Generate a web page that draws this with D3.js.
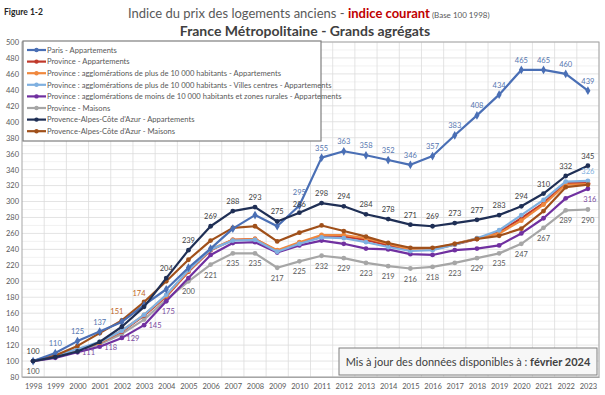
<!DOCTYPE html>
<html>
<head>
<meta charset="utf-8">
<script src="https://cdn.jsdelivr.net/npm/d3@7"></script>
<style>
  body { margin: 0; background: #fff; }
  text { font-family: Lato, "Liberation Sans", sans-serif; }
</style>
</head>
<body>
<div id="viz"></div>
<script>
// data
const years = d3.range(1998, 2024).map(String);
const yTicks = d3.range(80, 501, 20);

const seriesNames = [
  "Paris - Appartements",
  "Province - Appartements",
  "Province : agglomérations de plus de 10 000 habitants - Appartements",
  "Province : agglomérations de plus de 10 000 habitants - Villes centres - Appartements",
  "Province : agglomérations de moins de 10 000 habitants et zones rurales - Appartements",
  "Province - Maisons",
  "Provence-Alpes-Côte d'Azur - Appartements",
  "Provence-Alpes-Côte d'Azur - Maisons"
];

const paris     = [100,110,125,137,149,170,190,217,241,266,283,269,295,355,363,358,352,346,357,383,408,434,465,465,460,439];
const provApt   = [100,106,114,123,137,157,181,212,239,252,253,238,248,257,256,252,245,239,240,246,253,262,279,298,323,323];
const aggloApt  = [100,106,114,123,138,158,182,213,240,252,253,239,249,258,258,254,247,240,241,247,254,260,276,296,321,322];
const centres   = [100,107,115,124,138,158,183,214,240,251,252,237,247,255,254,249,243,238,239,246,254,264,283,302,325,326];
const ruralApt  = [100,104,111,118,129,145,175,204,233,248,249,236,245,251,247,241,240,234,233,239,241,245,260,279,304,316];
const provMai   = [100,106,113,121,134,152,177,200,221,235,235,217,225,232,229,223,219,216,218,223,229,235,247,267,289,290];
const pacaApt   = [100,105,112,124,143,168,204,239,269,288,293,275,286,298,294,284,278,271,269,273,277,283,294,310,332,345];
const pacaMai   = [100,107,119,135,151,174,200,227,251,267,269,250,261,270,263,256,248,242,242,247,253,257,266,288,318,321];

// which years carry a data label, per series
const parisLabels   = ["1999","2000","2001","2010","2011","2012","2013","2014","2015","2016","2017","2018","2019","2020","2021","2022","2023"];
const pacaAptLabels = ["1998","2004","2005","2006","2007","2008","2009","2010","2011","2012","2013","2014","2015","2016","2017","2018","2019","2020","2021","2022","2023"];
const pacaMaiLabels = ["2002","2003"];
const ruralLabels   = ["2000","2001","2002","2003","2004","2023"];
const provMaiLabels = ["1998","2005","2006","2007","2008","2009","2010","2011","2012","2013","2014","2015","2016","2017","2018","2019","2020","2021","2022","2023"];
const centresLabels = ["2023"];

const colors = ["#4a6fb5", "#c0392b", "#f0883e", "#7fb0e0", "#7030a0", "#a6a6a6", "#1f2f55", "#a0501a"];
const values = [paris, provApt, aggloApt, centres, ruralApt, provMai, pacaApt, pacaMai];
const labelYears = [parisLabels, [], [], centresLabels, ruralLabels, provMaiLabels, pacaAptLabels, pacaMaiLabels];
const labelColors = ["#5576b0", "#c0392b", "#f0883e", "#7fb0e0", "#7a4aa0", "#595959", "#404040", "#c0661e"];

const width = 605, height = 395;
const plot = {left: 22, right: 599, top: 42, bottom: 377};

const svg = d3.select("#viz")
  .append("svg")
    .attr("width", width)
    .attr("height", height);

// scales
const x = d3.scalePoint()
  .domain(years)
  .range([plot.left, plot.right])
  .padding(0.5);
const step = x.step();

const y = d3.scaleLinear()
  .domain([80, 500])
  .range([plot.bottom, plot.top]);

// gridlines
svg.append("g")
  .selectAll("line")
  .data(d3.range(80, 501, 10))
  .join("line")
    .attr("x1", plot.left).attr("x2", plot.right)
    .attr("y1", d => y(d)).attr("y2", d => y(d))
    .attr("stroke", d => d % 20 === 0 ? "#dcdcdc" : "#efefef")
    .attr("stroke-width", 0.8);

svg.append("g")
  .selectAll("line")
  .data(years)
  .join("line")
    .attr("x1", d => x(d) + step / 2).attr("x2", d => x(d) + step / 2)
    .attr("y1", plot.top).attr("y2", plot.bottom)
    .attr("stroke", "#dcdcdc")
    .attr("stroke-width", 0.8);

// plot border
svg.append("rect")
  .attr("x", plot.left).attr("y", plot.top)
  .attr("width", plot.right - plot.left).attr("height", plot.bottom - plot.top)
  .attr("fill", "none")
  .attr("stroke", "#a6a6a6")
  .attr("stroke-width", 1);

// Y axis
svg.append("g")
  .attr("transform", "translate(" + (plot.left - 3) + ",0)")
  .call(d3.axisLeft(y).tickValues(yTicks).tickSize(0).tickPadding(0))
  .call(g => g.select(".domain").remove())
  .call(g => g.selectAll("text")
    .attr("fill", "#595959")
    .attr("font-size", 7.5)
    .style("font-family", "Lato, sans-serif"));

// X axis
svg.append("g")
  .attr("transform", "translate(0," + plot.bottom + ")")
  .call(d3.axisBottom(x).tickSize(0).tickPadding(7))
  .call(g => g.select(".domain").attr("stroke", "#a6a6a6"))
  .call(g => g.selectAll("text")
    .attr("fill", "#595959")
    .attr("font-size", 7.5)
    .style("font-family", "Lato, sans-serif"));

// lines, drawn back to front
const drawOrder = [5, 4, 1, 2, 3, 7, 0, 6];
const line = d3.line()
  .x((d, i) => x(years[i]))
  .y(d => y(d));

const diamond = d3.symbol().type(d3.symbolDiamond).size(22);

drawOrder.forEach(s => {
  const g = svg.append("g");
  g.append("path")
    .datum(values[s])
    .attr("fill", "none")
    .attr("stroke", colors[s])
    .attr("stroke-width", 2.2)
    .attr("stroke-linejoin", "round")
    .attr("d", line);
  if (s === 0) {
    g.selectAll("path.mk")
      .data(values[s])
      .join("path")
        .attr("class", "mk")
        .attr("d", diamond)
        .attr("transform", (d, i) => "translate(" + x(years[i]) + "," + y(d) + ")")
        .attr("fill", colors[s]);
  } else {
    g.selectAll("circle")
      .data(values[s])
      .join("circle")
        .attr("cx", (d, i) => x(years[i]))
        .attr("cy", d => y(d))
        .attr("r", 2.4)
        .attr("fill", colors[s]);
  }
});

// data labels
const labelPos = (s, yr) => {
  if (s === 5) return {dx: 0, dy: 13};
  if (s === 4) {
    if (yr === "2004" || yr === "2023") return {dx: 2, dy: 13};
    return {dx: 11, dy: 3};
  }
  if (s === 7) return {dx: -5, dy: -6};
  if (s === 0 && yr === "2010") return {dx: 0, dy: -11};
  if (s === 6 && yr === "2010") return {dx: 0, dy: -6};
  return {dx: 0, dy: -7};
};

labelYears.forEach((yrs, s) => {
  svg.append("g")
    .selectAll("text")
    .data(yrs)
    .join("text")
      .attr("x", d => x(d) + labelPos(s, d).dx)
      .attr("y", d => y(values[s][years.indexOf(d)]) + labelPos(s, d).dy)
      .attr("text-anchor", "middle")
      .attr("font-size", 7.5)
      .attr("fill", labelColors[s])
      .text(d => values[s][years.indexOf(d)]);
});

// legend
const legend = svg.append("g");
legend.append("rect")
  .attr("x", 23).attr("y", 41)
  .attr("width", 298).attr("height", 100)
  .attr("fill", "#fff")
  .attr("stroke", "#7f7f7f")
  .attr("stroke-width", 1.2);

seriesNames.forEach((name, s) => {
  const ly = 50 + s * 11.6;
  legend.append("line")
    .attr("x1", 27).attr("x2", 46)
    .attr("y1", ly).attr("y2", ly)
    .attr("stroke", colors[s])
    .attr("stroke-width", 2.2);
  legend.append("circle")
    .attr("cx", 36.5).attr("cy", ly)
    .attr("r", 2.2)
    .attr("fill", colors[s]);
  legend.append("text")
    .attr("x", 47).attr("y", ly + 2.7)
    .attr("font-size", 7.6)
    .attr("fill", "#595959")
    .text(name);
});

// titles
svg.append("text")
  .attr("x", 4).attr("y", 15)
  .attr("font-size", 8.5)
  .attr("font-weight", "bold")
  .attr("fill", "#262626")
  .text("Figure 1-2");

const t1 = svg.append("text")
  .attr("x", 128).attr("y", 18)
  .attr("font-size", 13)
  .attr("fill", "#595959");
t1.append("tspan").text("Indice du prix des logements anciens - ");
t1.append("tspan").attr("fill", "#c00000").attr("font-weight", "bold").text("indice courant");
t1.append("tspan").attr("font-size", 8).text(" (Base 100 1998)");

svg.append("text")
  .attr("x", 305).attr("y", 36)
  .attr("text-anchor", "middle")
  .attr("font-size", 14)
  .attr("font-weight", "bold")
  .attr("fill", "#404040")
  .text("France Métropolitaine - Grands agrégats");

// update note
svg.append("rect")
  .attr("x", 339).attr("y", 348)
  .attr("width", 258).attr("height", 27)
  .attr("fill", "#f7f7f7")
  .attr("stroke", "#7f7f7f")
  .attr("stroke-width", 1);

const note = svg.append("text")
  .attr("x", 468).attr("y", 366)
  .attr("text-anchor", "middle")
  .attr("font-size", 11)
  .attr("fill", "#404040");
note.append("tspan").text("Mis à jour des données disponibles à : ");
note.append("tspan").attr("font-weight", "bold").text("février 2024");
</script>
</body>
</html>
